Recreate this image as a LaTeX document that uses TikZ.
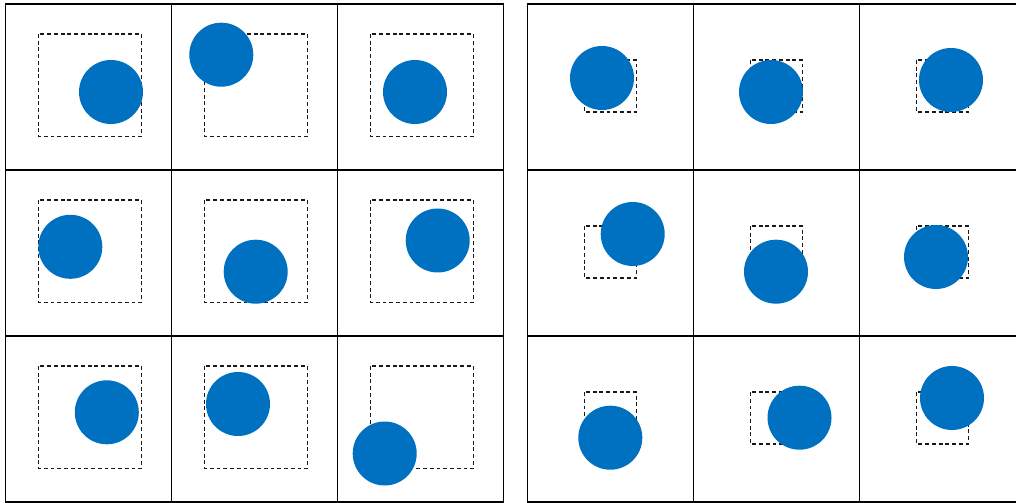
\documentclass[tikz,border=0pt]{standalone}
\usetikzlibrary{positioning}
\definecolor{dotblue}{RGB}{0,112,192}
\begin{document}
\begin{tikzpicture}[x=0.025cm,y=-0.025cm,
    gridline/.style={black,line width=0.8pt},
    target/.style={black!90,line width=0.75pt,dash pattern=on 2.8pt off 2pt},
    dot/.style={fill=dotblue}]
  \clip (0,0) rectangle (1016,503);
  % left: large targets
  \begin{scope}[shift={(5.5,4)}]
    \foreach \r in {0,1,2} {
      \foreach \c in {0,1,2} {
        \draw[gridline] ({\c*166},{\r*166}) rectangle +(166,166);
        \draw[target] ({\c*166+33},{\r*166+30}) rectangle +(102.7,102.7);
      }
    }
    \foreach \x/\y in {105.5/88,215.8/50.7,409.5/88,
                       64.8/242.8,250.2/267.7,432.2/236.5,
                       101.3/408.3,232.5/400,379.2/449.5} {
      \fill[dot] (\x,\y) circle (32);
    }
  \end{scope}
  % right: small targets
  \begin{scope}[shift={(527.7,4)}]
    \foreach \r in {0,1,2} {
      \foreach \c in {0,1,2} {
        \draw[gridline] ({\c*166},{\r*166}) rectangle +(166,166);
        \draw[target] ({\c*166+56.6},{\r*166+56}) rectangle +(52,52);
      }
    }
    \foreach \x/\y in {74.3/74,243.3/88,423.3/76,
                       105/230,248.3/267.7,408.3/253,
                       82.6/433.7,271.8/413.7,424.3/394} {
      \fill[dot] (\x,\y) circle (32);
    }
  \end{scope}
\end{tikzpicture}
\end{document}
